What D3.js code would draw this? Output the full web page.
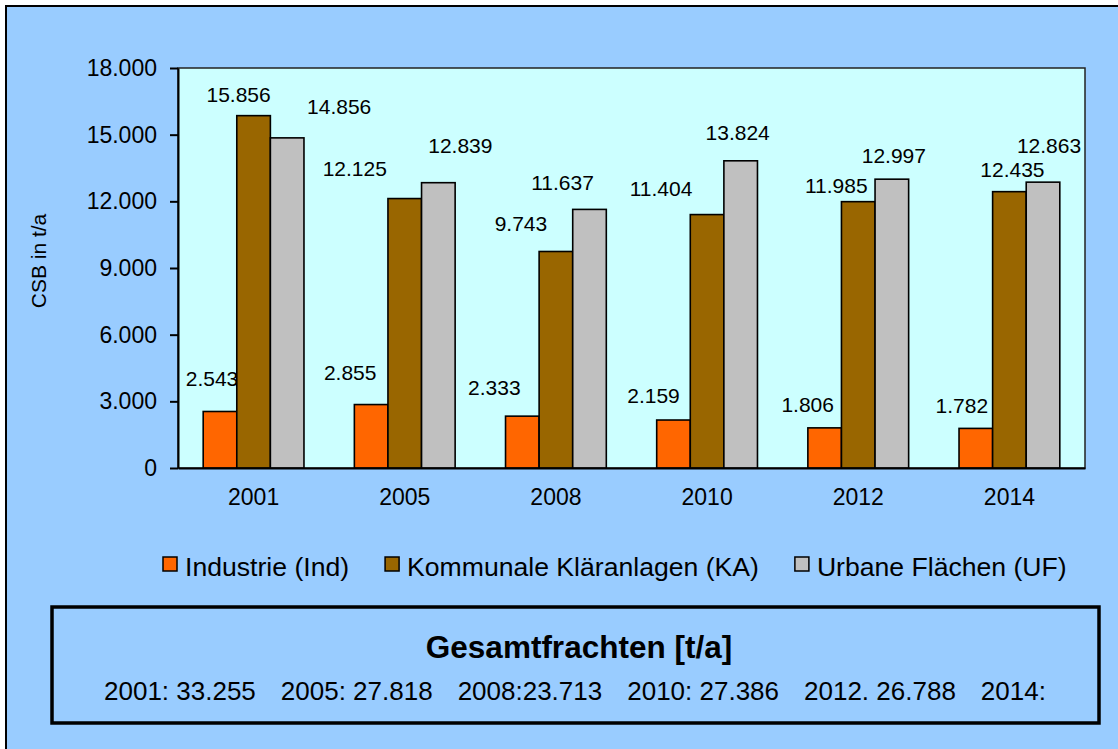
<!DOCTYPE html>
<html lang="de">
<head>
<meta charset="utf-8">
<title>CSB-Frachten</title>
<script src="https://cdn.jsdelivr.net/npm/d3@7"></script>
<style>
  body { margin: 0; background: #fff; }
  svg { display: block; font-family: "Liberation Sans", Arial, sans-serif; }
</style>
</head>
<body>
<svg id="chart" width="1118" height="749"></svg>
<script>
var years = ["2001", "2005", "2008", "2010", "2012", "2014"];
var seriesNames = ["Industrie (Ind)", "Kommunale Kläranlagen (KA)", "Urbane Flächen (UF)"];
var industrie = [2543, 2855, 2333, 2159, 1806, 1782];
var klaeranlagen = [15856, 12125, 9743, 11404, 11985, 12435];
var urbane = [14856, 12839, 11637, 13824, 12997, 12863];
var yTicks = [0, 3000, 6000, 9000, 12000, 15000, 18000];
var yTitle = "CSB in t/a";
var boxTitle = "Gesamtfrachten [t/a]";
var totals = ["2001: 33.255", "2005: 27.818", "2008:23.713", "2010: 27.386", "2012. 26.788", "2014:"];

var colors = ["#ff6600", "#996600", "#c0c0c0"];
// the value labels were dragged by hand in the original, so nudge them the same way
var labelDx = [[-8, -21, -28, -20, -17, -14], [-15, -50, -35, -46, -22, 3], [52, 22, -27, -3, 2, 6]];
var labelDy = [[-25, -25, -21, -17, -16, -15], [-14, -23, -20, -19, -9, -15], [-24, -30, -19, -21, -16, -29]];

var allSeries = [industrie, klaeranlagen, urbane];

var de = d3.formatLocale({ decimal: ",", thousands: ".", grouping: [3], currency: ["", " €"] });
var fmt = de.format(",d");

var svg = d3.select("#chart");
var plot = { left: 178, top: 68, right: 1085, bottom: 468 };

// outer frame
svg.append("rect")
    .attr("x", 6).attr("y", 6)
    .attr("width", 1130).attr("height", 760)
    .attr("fill", "#99ccff")
    .attr("stroke", "#000")
    .attr("stroke-width", 2);

var x0 = d3.scaleBand()
    .domain(years)
    .range([plot.left, plot.right])
    .paddingInner(1 / 3)
    .paddingOuter(1 / 6);
var x1 = d3.scaleBand()
    .domain(d3.range(allSeries.length))
    .range([0, x0.bandwidth()]);
var y = d3.scaleLinear()
    .domain([0, 18000])
    .range([plot.bottom, plot.top]);

svg.append("rect")
    .attr("x", plot.left).attr("y", plot.top)
    .attr("width", plot.right - plot.left)
    .attr("height", plot.bottom - plot.top)
    .attr("fill", "#ccffff")
    .attr("stroke", "#222")
    .attr("stroke-width", 1.5);

// bars
var groups = svg.selectAll("g.series")
    .data(allSeries)
    .enter()
    .append("g")
    .attr("class", "series")
    .attr("fill", function(d, i) { return colors[i]; });

groups.selectAll("rect")
    .data(function(vals, si) {
        return vals.map(function(v, i) { return { s: si, i: i, v: v }; });
    })
    .enter()
    .append("rect")
    .attr("x", function(d) { return x0(years[d.i]) + x1(d.s); })
    .attr("y", function(d) { return y(d.v); })
    .attr("width", x1.bandwidth())
    .attr("height", function(d) { return y(0) - y(d.v); })
    .attr("stroke", "#000")
    .attr("stroke-width", 1.6);

groups.selectAll("text")
    .data(function(vals, si) {
        return vals.map(function(v, i) { return { s: si, i: i, v: v }; });
    })
    .enter()
    .append("text")
    .attr("x", function(d) { return x0(years[d.i]) + x1(d.s) + x1.bandwidth() / 2 + labelDx[d.s][d.i]; })
    .attr("y", function(d) { return y(d.v) + labelDy[d.s][d.i]; })
    .attr("text-anchor", "middle")
    .attr("font-size", 21)
    .attr("fill", "#000")
    .text(function(d) { return fmt(d.v); });

// axes
var yAxis = svg.append("g")
    .attr("transform", "translate(" + plot.left + ",0)")
    .call(d3.axisLeft(y).tickValues(yTicks).tickSize(8).tickSizeOuter(0).tickPadding(13).tickFormat(fmt));
var xAxis = svg.append("g")
    .attr("transform", "translate(0," + plot.bottom + ")")
    .call(d3.axisBottom(x0).tickSize(0).tickPadding(21));

[yAxis, xAxis].forEach(function(a) {
    a.select(".domain").attr("stroke", "#000").attr("stroke-width", 2);
    a.selectAll(".tick line").attr("stroke", "#000").attr("stroke-width", 2);
    a.selectAll(".tick text")
        .attr("font-family", "Liberation Sans, Arial, sans-serif")
        .attr("font-size", 23)
        .attr("fill", "#000");
});

svg.append("text")
    .attr("transform", "translate(39,261) rotate(-90)")
    .attr("text-anchor", "middle")
    .attr("dy", "0.35em")
    .attr("font-size", 21)
    .text(yTitle);

// legend
var lx = 163;
seriesNames.forEach(function(name, i) {
    svg.append("rect")
        .attr("x", lx).attr("y", 557)
        .attr("width", 14).attr("height", 14)
        .attr("fill", colors[i])
        .attr("stroke", "#000")
        .attr("stroke-width", 1.5);
    var t = svg.append("text")
        .attr("x", lx + 22).attr("y", 576)
        .attr("font-size", 26.6)
        .text(name);
    lx += 22 + t.node().getComputedTextLength() + 36;
});

// totals box
svg.append("rect")
    .attr("x", 52).attr("y", 607)
    .attr("width", 1047).attr("height", 116)
    .attr("fill", "none")
    .attr("stroke", "#000")
    .attr("stroke-width", 3.5);

svg.append("text")
    .attr("x", 579).attr("y", 658)
    .attr("text-anchor", "middle")
    .attr("font-size", 31.5)
    .attr("font-weight", "bold")
    .text(boxTitle);

var tx = 104;
totals.forEach(function(s) {
    var t = svg.append("text")
        .attr("x", tx).attr("y", 700)
        .attr("font-size", 26)
        .text(s);
    tx += t.node().getComputedTextLength() + 25;
});
</script>
</body>
</html>
